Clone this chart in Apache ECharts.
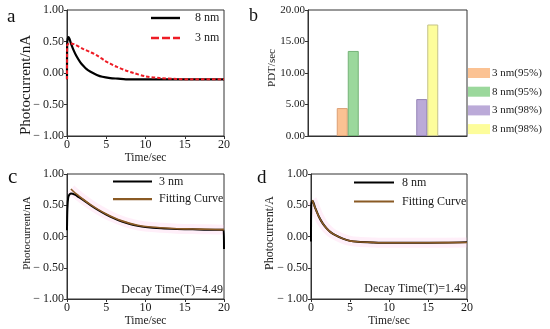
<!DOCTYPE html>
<html>
<head>
<meta charset="utf-8">
<script src="https://cdn.jsdelivr.net/npm/echarts@6/dist/echarts.min.js"></script>
<style>
html,body{margin:0;padding:0;background:#fff;}
#chart{width:550px;height:329px;}
</style>
</head>
<body>
<div id="chart"></div>
<script>
// ---- Panel a ----
const timeA8 = [0, 0.02, 0.1, 0.2, 0.5, 0.85, 1.2, 1.7, 2.1, 2.5, 3.0, 3.8, 4.5, 5.5, 6.5, 7.5, 10, 15, 20];
const valA8  = [-0.1, 0.45, 0.55, 0.57, 0.47, 0.36, 0.27, 0.17, 0.11, 0.06, 0.02, -0.03, -0.06, -0.08, -0.09, -0.1, -0.1, -0.1, -0.1];
const timeA3 = [0, 0.02, 0.15, 0.4, 1.0, 2.1, 3.0, 3.8, 4.9, 5.5, 6.3, 7.5, 8.5, 9.9, 11.8, 14, 16, 20];
const valA3  = [-0.1, 0.44, 0.46, 0.47, 0.45, 0.38, 0.33, 0.28, 0.19, 0.15, 0.10, 0.04, 0.0, -0.05, -0.08, -0.095, -0.1, -0.1];
// ---- Panel b ----
const barCategories = ['95%', '98%'];
const pdt3nm95 = [4.43, null];
const pdt8nm95 = [13.5, null];
const pdt3nm98 = [null, 5.86];
const pdt8nm98 = [null, 17.7];
// ---- Panel c ----
const timeC3 = [0, 0.05, 0.15, 0.3, 0.5, 1, 1.5, 2, 3, 4, 5, 6, 7, 8, 9, 10, 12, 14, 16, 18, 19.95, 20];
const valC3  = [0.1, 0.45, 0.62, 0.67, 0.69, 0.67, 0.63, 0.59, 0.5, 0.42, 0.35, 0.29, 0.24, 0.2, 0.17, 0.15, 0.13, 0.12, 0.115, 0.11, 0.11, -0.2];
const timeCFit = [0.5, 1, 1.5, 2, 3, 4, 5, 6, 7, 8, 9, 10, 12, 14, 16, 18, 20];
const valCFit  = [0.76, 0.70, 0.65, 0.60, 0.51, 0.43, 0.36, 0.30, 0.25, 0.21, 0.18, 0.16, 0.14, 0.125, 0.12, 0.115, 0.11];
// ---- Panel d ----
const timeD8 = [0, 0.03, 0.1, 0.2, 0.5, 1, 1.5, 2, 2.5, 3, 4, 5, 6, 8, 10, 15, 20];
const valD8  = [-0.08, 0.5, 0.56, 0.57, 0.47, 0.32, 0.21, 0.13, 0.07, 0.03, -0.03, -0.07, -0.085, -0.095, -0.1, -0.1, -0.09];
const timeDFit = [0.15, 0.2, 0.5, 1, 1.5, 2, 2.5, 3, 4, 5, 6, 8, 10, 15, 20];
const valDFit  = [0.58, 0.57, 0.47, 0.32, 0.21, 0.13, 0.07, 0.03, -0.03, -0.07, -0.085, -0.095, -0.1, -0.1, -0.095];
// ---- Ticks / labels ----
const timeTicks = {min: 0, max: 20, interval: 5};
const currentTicks = {min: -1, max: 1, interval: 0.5};
const pdtTicks = {min: 0, max: 20, interval: 5};
const decayC = 'Decay Time(T)=4.49';
const decayD = 'Decay Time(T)=1.49';

const pairs = (t, v) => t.map((x, i) => [x, v[i]]);
const FONT = '"Liberation Serif", "Times New Roman", serif';
const TXT = '#1a1a1a';
const AX = '#333';

function yFmt(v) { return v < 0 ? '\u2212 ' + Math.abs(v).toFixed(2) : v.toFixed(2); }

function timeX(gi) {
  return {
    type: 'value', gridIndex: gi, min: timeTicks.min, max: timeTicks.max, interval: timeTicks.interval,
    name: 'Time/sec', nameLocation: 'middle', nameGap: 13,
    nameTextStyle: {fontFamily: FONT, fontSize: 11.5, color: TXT},
    axisLine: {show: true, onZero: false, lineStyle: {color: AX}},
    axisTick: {show: true, inside: false, length: 3, lineStyle: {color: AX}},
    axisLabel: {fontFamily: FONT, fontSize: 12, color: TXT, margin: 3},
    splitLine: {show: false}
  };
}
function currY(gi) {
  return {
    type: 'value', gridIndex: gi, min: currentTicks.min, max: currentTicks.max, interval: currentTicks.interval,
    axisLine: {show: true, onZero: false, lineStyle: {color: AX}},
    axisTick: {show: true, inside: false, length: 3, lineStyle: {color: AX}},
    axisLabel: {fontFamily: FONT, fontSize: 12, color: TXT, margin: 3, formatter: yFmt},
    splitLine: {show: false}
  };
}
const gridBase = {show: true, borderColor: AX, borderWidth: 1, backgroundColor: 'transparent'};

const chart = echarts.init(document.getElementById('chart'), null, {renderer: 'canvas'});
const BROWN = '#8a5a24';
const RED = '#ee1c25';
const lineIcon = 'path://M0,0h29v2.4h-29z';
const dashIcon = 'path://M0,0h8v2.4h-8z M11,0h8v2.4h-8z M22,0h7v2.4h-7z';
const option = {
  animation: false,
  backgroundColor: '#fff',
  grid: [
    Object.assign({left: 67, top: 10, width: 157, height: 126}, gridBase),
    Object.assign({left: 308, top: 10, width: 159, height: 126}, gridBase),
    Object.assign({left: 67, top: 174, width: 157, height: 125}, gridBase),
    Object.assign({left: 311, top: 174, width: 156, height: 125}, gridBase)
  ],
  xAxis: [
    timeX(0),
    {type: 'category', gridIndex: 1, data: barCategories, axisLine: {lineStyle: {color: AX}},
     axisTick: {show: false}, axisLabel: {show: false}},
    timeX(2),
    timeX(3)
  ],
  yAxis: [
    currY(0),
    {type: 'value', gridIndex: 1, min: pdtTicks.min, max: pdtTicks.max, interval: pdtTicks.interval,
     axisLine: {show: true, lineStyle: {color: AX}},
     axisTick: {show: true, length: 3, lineStyle: {color: AX}},
     axisLabel: {fontFamily: FONT, fontSize: 11, color: TXT, margin: 3, formatter: v => v.toFixed(2)},
     splitLine: {show: false}},
    currY(2),
    currY(3)
  ],
  legend: [
    {left: 146, top: 7, orient: 'vertical', itemWidth: 29, itemHeight: 2.4, itemGap: 8, symbolKeepAspect: false,
     data: [{name: '8 nm', icon: lineIcon}, {name: '3 nm', icon: dashIcon}],
     textStyle: {fontFamily: FONT, fontSize: 12, color: TXT, padding: [0, 0, 0, 10]}},
    {left: 463, top: 62.5, orient: 'vertical', itemWidth: 22, itemHeight: 10, itemGap: 7.7, icon: 'rect',
     itemStyle: {borderWidth: 0},
     data: ['3 nm(95%)', '8 nm(95%)', '3 nm(98%)', '8 nm(98%)'],
     textStyle: {fontFamily: FONT, fontSize: 11, color: TXT, padding: [0, 0, 0, -3]}},
    {left: 108, top: 170.5, orient: 'vertical', itemWidth: 39, itemHeight: 2.2, itemGap: 5.6, symbolKeepAspect: false,
     data: [{name: '3 nm ', icon: 'rect'}, {name: 'Fitting Curve', icon: 'rect'}],
     textStyle: {fontFamily: FONT, fontSize: 12, color: TXT, padding: [0, 0, 0, 2]}},
    {left: 349, top: 171.5, orient: 'vertical', itemWidth: 40, itemHeight: 2.2, itemGap: 7, symbolKeepAspect: false,
     data: [{name: '8 nm ', icon: 'rect'}, {name: 'Fitting Curve ', icon: 'rect'}],
     textStyle: {fontFamily: FONT, fontSize: 12, color: TXT, padding: [0, 0, 0, 3]}}
  ],
  graphic: [
    {type: 'text', left: 7, top: 8, style: {text: 'a', font: '19px ' + FONT, fill: '#111'}},
    {type: 'text', left: 249, top: 7, style: {text: 'b', font: '18px ' + FONT, fill: '#111'}},
    {type: 'text', left: 8, top: 167, style: {text: 'c', font: '21px ' + FONT, fill: '#111'}},
    {type: 'text', left: 257, top: 169, style: {text: 'd', font: '19px ' + FONT, fill: '#111'}},
    {type: 'text', x: 26, y: 85, rotation: Math.PI / 2,
     style: {text: 'Photocurrent/nA', font: '15px ' + FONT, fill: TXT, align: 'center', verticalAlign: 'middle'}},
    {type: 'text', x: 272, y: 68, rotation: Math.PI / 2,
     style: {text: 'PDT/sec', font: '11px ' + FONT, fill: TXT, align: 'center', verticalAlign: 'middle'}},
    {type: 'text', x: 27, y: 233, rotation: Math.PI / 2,
     style: {text: 'Photocurrent/nA', font: '11px ' + FONT, fill: TXT, align: 'center', verticalAlign: 'middle'}},
    {type: 'text', x: 270, y: 233, rotation: Math.PI / 2,
     style: {text: 'Photocurrent/A', font: '12px ' + FONT, fill: TXT, align: 'center', verticalAlign: 'middle'}},
    {type: 'text', x: 223, y: 290,
     style: {text: decayC, font: '12px ' + FONT, fill: TXT, align: 'right', verticalAlign: 'middle'}},
    {type: 'text', x: 466, y: 289,
     style: {text: decayD, font: '12px ' + FONT, fill: TXT, align: 'right', verticalAlign: 'middle'}}
  ],
  series: [
    // panel a
    {name: '8 nm', type: 'line', xAxisIndex: 0, yAxisIndex: 0, data: pairs(timeA8, valA8), symbol: 'none',
     smooth: 0.3, lineStyle: {color: '#000', width: 2.2}, itemStyle: {color: '#000'}, z: 3},
    {name: '3 nm', type: 'line', xAxisIndex: 0, yAxisIndex: 0, data: pairs(timeA3, valA3), symbol: 'none',
     smooth: 0.3, lineStyle: {color: RED, width: 2, type: [3.5, 2]}, itemStyle: {color: RED}, z: 4},
    // panel b
    {name: '3 nm(95%)', type: 'bar', xAxisIndex: 1, yAxisIndex: 1, stack: 'L', data: pdt3nm95, barWidth: 11, barGap: '0%',
     itemStyle: {color: '#fbc293', borderColor: '#dc9f73', borderWidth: 1}},
    {name: '3 nm(98%)', type: 'bar', xAxisIndex: 1, yAxisIndex: 1, stack: 'L', data: pdt3nm98, barWidth: 11, barGap: '0%',
     itemStyle: {color: '#bbaad8', borderColor: '#9483b6', borderWidth: 1}},
    {name: '8 nm(95%)', type: 'bar', xAxisIndex: 1, yAxisIndex: 1, stack: 'R', data: pdt8nm95, barWidth: 11, barGap: '0%',
     itemStyle: {color: '#9bd89c', borderColor: '#74b377', borderWidth: 1}},
    {name: '8 nm(98%)', type: 'bar', xAxisIndex: 1, yAxisIndex: 1, stack: 'R', data: pdt8nm98, barWidth: 11, barGap: '0%',
     itemStyle: {color: '#fdfd9b', borderColor: '#c4c289', borderWidth: 1}},
    // panel c
    {name: 'glowC', type: 'line', xAxisIndex: 2, yAxisIndex: 2, data: pairs(timeCFit, valCFit), symbol: 'none', smooth: 0.3,
     lineStyle: {color: 'rgba(255,190,230,0.25)', width: 10}, silent: true, z: 1},
    {name: '3 nm ', type: 'line', xAxisIndex: 2, yAxisIndex: 2, data: pairs(timeC3, valC3), symbol: 'none',
     smooth: 0.3, lineStyle: {color: '#000', width: 2}, itemStyle: {color: '#000'}, z: 3},
    {name: 'Fitting Curve', type: 'line', xAxisIndex: 2, yAxisIndex: 2, data: pairs(timeCFit, valCFit), symbol: 'none',
     smooth: 0.3, lineStyle: {color: BROWN, width: 1.6}, itemStyle: {color: BROWN}, z: 4},
    // panel d
    {name: 'glowD', type: 'line', xAxisIndex: 3, yAxisIndex: 3, data: pairs(timeDFit, valDFit), symbol: 'none', smooth: 0.3,
     lineStyle: {color: 'rgba(255,190,230,0.25)', width: 10}, silent: true, z: 1},
    {name: '8 nm ', type: 'line', xAxisIndex: 3, yAxisIndex: 3, data: pairs(timeD8, valD8), symbol: 'none',
     smooth: 0.3, lineStyle: {color: '#000', width: 2}, itemStyle: {color: '#000'}, z: 3},
    {name: 'Fitting Curve ', type: 'line', xAxisIndex: 3, yAxisIndex: 3, data: pairs(timeDFit, valDFit), symbol: 'none',
     smooth: 0.3, lineStyle: {color: BROWN, width: 1.6}, itemStyle: {color: BROWN}, z: 4}
  ]
};
chart.setOption(option);
</script>
</body>
</html>
